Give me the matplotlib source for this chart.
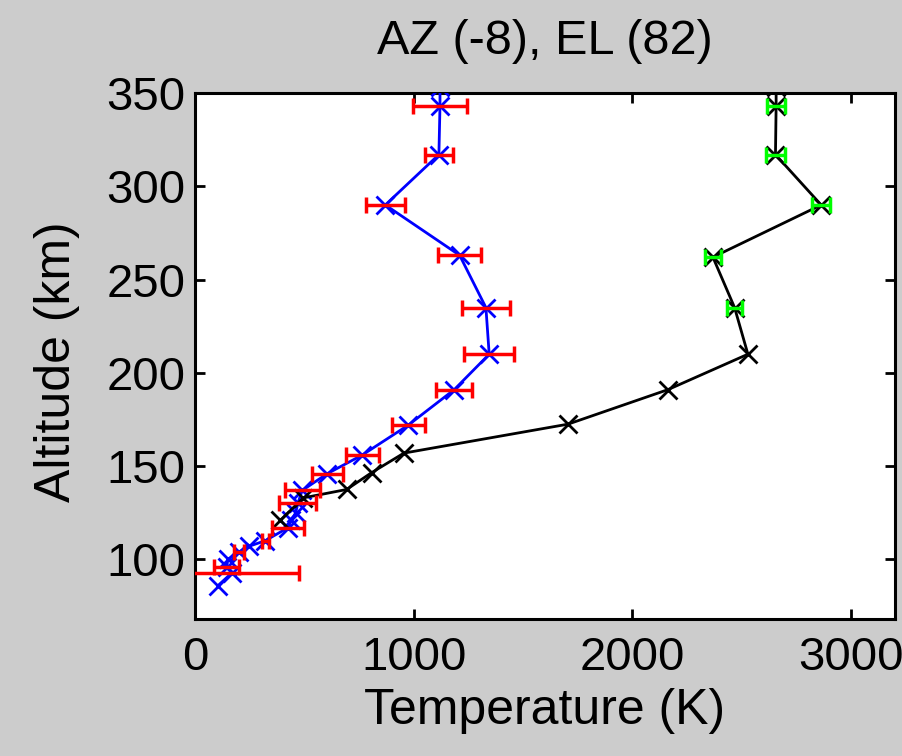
import matplotlib
matplotlib.use('Agg')
import matplotlib.pyplot as plt
import numpy as np

# Perfil de temperatura (azul, con barras rojas)
blue_alt = [86, 93, 96, 100, 104, 107, 110, 117, 121, 125, 130, 137, 146, 156, 172, 191, 210, 235, 263, 290, 317, 343, 353]
blue_T = [105, 170, 145, 150, 200, 245, 320, 425, 440, 460, 470, 490, 605, 765, 975, 1185, 1345, 1330, 1210, 870, 1115, 1120, 1120]
blue_err = [0, 305, 57, 0, 23, 0, 16, 73, 0, 0, 85, 80, 72, 75, 75, 82, 115, 110, 98, 90, 64, 123, 0]

# Perfil negro (barras verdes solo arriba)
black_alt = [121, 133, 137.5, 146.5, 157, 172.5, 191, 210, 235, 262, 290, 317, 343, 353]
black_T = [390, 495, 693, 807, 955, 1705, 2162, 2528, 2467, 2368, 2863, 2654, 2657, 2657]
black_err = [0, 0, 0, 0, 0, 0, 0, 0, 36, 35, 42, 42, 42, 0]

plt.rcParams['font.family'] = ['Liberation Sans', 'DejaVu Sans']

fig = plt.figure(figsize=(9.03, 7.56), dpi=100, facecolor='#cccccc')
ax = fig.add_axes([0.216, 0.181, 0.775, 0.696])
ax.set_facecolor('white')

ax.plot(blue_T, blue_alt, color='blue', lw=2, marker='x', ms=13, mew=2, zorder=3)
ax.plot(black_T, black_alt, color='black', lw=2, marker='x', ms=13, mew=2, zorder=3)

# Barras de error horizontales
bT = np.array(blue_T); bA = np.array(blue_alt); bE = np.array(blue_err)
m = bE > 0
ax.errorbar(bT[m], bA[m], xerr=bE[m], fmt='none', ecolor='red', elinewidth=2.5,
            capsize=6, capthick=2.5, zorder=4)
kT = np.array(black_T); kA = np.array(black_alt); kE = np.array(black_err)
m = kE > 0
ax.errorbar(kT[m], kA[m], xerr=kE[m], fmt='none', ecolor='#00ff00', elinewidth=2.5,
            capsize=6, capthick=2.5, zorder=4)

ax.set_xlim(0, 3200)
ax.set_ylim(68, 350)
ax.set_xticks([0, 1000, 2000, 3000])
ax.set_yticks([100, 150, 200, 250, 300, 350])
ax.tick_params(direction='in', length=7, width=2, labelsize=34, top=True, right=True)
ax.tick_params(axis='y', pad=7)
ax.tick_params(axis='x', pad=12)
for s in ax.spines.values():
    s.set_linewidth(2.2)

ax.set_xlabel('Temperature (K)', fontsize=36, labelpad=6)
ax.set_ylabel('Altitude (km)', fontsize=36)
ax.yaxis.set_label_coords(-0.165, 0.49)
ax.set_title('AZ (-8), EL (82)', fontsize=35, pad=28)

fig.savefig('out.png', dpi=100, facecolor=fig.get_facecolor())
